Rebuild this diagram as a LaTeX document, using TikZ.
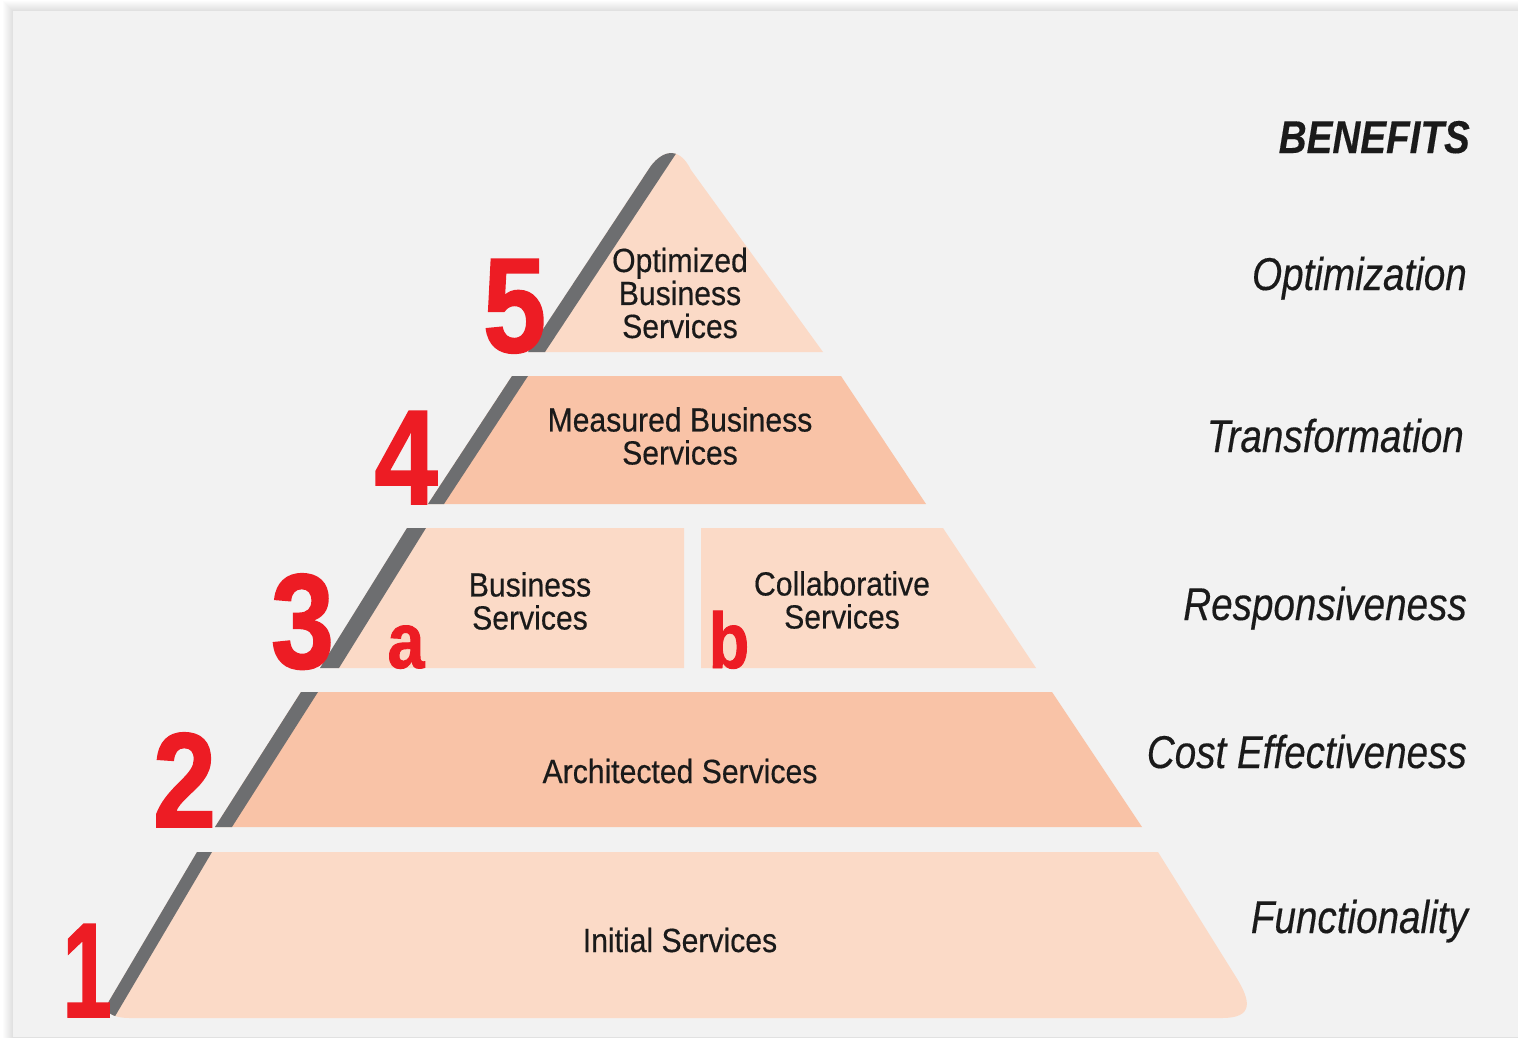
\documentclass[tikz,border=0pt]{standalone}
\usepackage{fontspec}
\setmainfont{Liberation Sans}
\newfontfamily\tierfont[FakeStretch=0.9,FakeBold=0.4]{Liberation Sans}
\newfontfamily\benfont[FakeStretch=0.84,FakeBold=0.3]{Liberation Sans}
\newfontfamily\numfont[FakeStretch=0.84,FakeBold=1.2]{Liberation Sans}
\definecolor{panel}{HTML}{F2F2F2}
\definecolor{lightpeach}{HTML}{FBDAC7}
\definecolor{darkpeach}{HTML}{F9C3A7}
\definecolor{stripegray}{HTML}{6D6E70}
\definecolor{numred}{HTML}{ED1C24}
\definecolor{ink}{HTML}{1A1A1A}
\tikzset{
  tiertext/.style={inner sep=0pt, align=center, text=ink, font=\tierfont\fontsize{33.5}{33}\selectfont},
  bentext/.style={inner sep=0pt, anchor=base east, text=ink, font=\benfont\itshape\fontsize{46}{50}\selectfont},
  bighead/.style={inner sep=0pt, anchor=base east, text=ink, font=\benfont\bfseries\itshape\fontsize{46}{50}\selectfont},
  numtext/.style={inner sep=0pt, anchor=base, text=numred, font=\numfont\bfseries\fontsize{135}{140}\selectfont},
  subnum/.style={inner sep=0pt, anchor=base, text=numred, font=\numfont\bfseries\fontsize{79}{80}\selectfont},
  stripe/.style={fill=stripegray},
}
\begin{document}
\begin{tikzpicture}[x=1pt,y=-1pt]
\useasboundingbox (0,0) rectangle (1518,1037);
\fill[white] (0,0) rectangle (1518,1037);
% soft shadow of the panel
\foreach \i in {1,...,10}{
  \fill[black, opacity=0.012] ({13-\i},{11-\i}) rectangle (1530,1050);
}
\fill[panel] (13,11) rectangle (1518,1037);

% ---- Tier 1
\begin{scope}
  \clip (197,852) -- (1158,852) -- (1236,977) .. controls (1251,1001) and (1254,1018) .. (1222,1018) -- (130,1018) .. controls (112,1018) and (102,1012) .. (109,1001) -- cycle;
  \fill[lightpeach] (0,800) rectangle (1400,1037);
  \fill[stripe] (99,1018) -- (197,852) -- (212,852) -- (114,1018) -- cycle;
\end{scope}
% ---- Tier 2
\begin{scope}
  \clip (215,827) -- (301,692) -- (1052,692) -- (1142,827) -- cycle;
  \fill[darkpeach] (0,680) rectangle (1400,840);
  \fill[stripe] (215,827) -- (301,692) -- (318,692) -- (232,827) -- cycle;
\end{scope}
% ---- Tier 3a
\begin{scope}
  \clip (320,668) -- (407,528) -- (684,528) -- (684,668) -- cycle;
  \fill[lightpeach] (0,520) rectangle (1400,680);
  \fill[stripe] (320,668) -- (407,528) -- (426,528) -- (339,668) -- cycle;
\end{scope}
% ---- Tier 3b
\fill[lightpeach] (701,668) -- (701,528) -- (943,528) -- (1036,668) -- cycle;
% ---- Tier 4
\begin{scope}
  \clip (428,504) -- (512,376) -- (841,376) -- (926,504) -- cycle;
  \fill[darkpeach] (0,360) rectangle (1400,520);
  \fill[stripe] (428,504) -- (512,376) -- (528,376) -- (444,504) -- cycle;
\end{scope}
% ---- Tier 5
\begin{scope}
  \clip (528,352) -- (648,170) .. controls (661,150) and (679,145) .. (691,170) -- (823,352) -- cycle;
  \fill[lightpeach] (0,130) rectangle (1400,360);
  \fill[stripe] (528,352) -- (668,140) -- (685,140) -- (545,352) -- cycle;
\end{scope}

% ---- tier texts
\node[tiertext, anchor=base] (t1) at (680,952) {Initial Services};
\node[tiertext, anchor=base] (t2) at (680,783) {Architected Services};
\node[tiertext] (t3a) at (530,601) {Business\\Services};
\node[tiertext] (t3b) at (842,600) {Collaborative\\Services};
\node[tiertext] (t4) at (680,436) {Measured Business\\Services};
\node[tiertext] (t5) at (680,293) {Optimized\\Business\\Services};

% ---- level numbers
\node[numtext] (n1) at (87,1017) {\scalebox{0.78}[1]{1}};
\node[numtext] (n2) at (184.5,827) {2};
\node[numtext] (n3) at (302.5,668) {3};
\node[numtext] (n4) at (406,504) {4};
\node[numtext] (n5) at (514.5,352) {5};
\node[subnum] (na) at (406,668) {a};
\node[subnum] (nb) at (729,668) {b};

% ---- benefits
\node[bighead] (ben) at (1470,153) {BENEFITS};
\node[bentext] (b5) at (1467,290) {Optimization};
\node[bentext] (b4) at (1464,452) {Transformation};
\node[bentext] (b3) at (1467,620) {Responsiveness};
\node[bentext] (b2) at (1467,768) {Cost Effectiveness};
\node[bentext] (b1) at (1468,933) {Functionality};
\end{tikzpicture}
\end{document}
